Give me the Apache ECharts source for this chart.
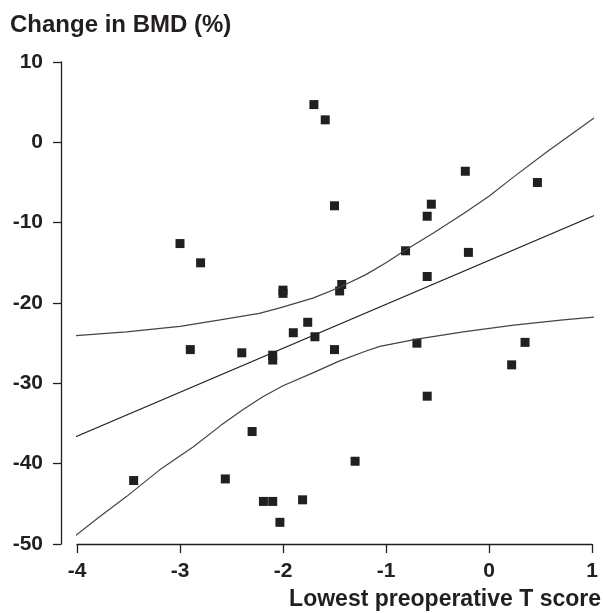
<!DOCTYPE html>
<html lang="en">
<head>
    <meta charset="UTF-8">
    <title>BMD change vs T score</title>
    <style>
        html, body { margin: 0; padding: 0; background: #fff; }
        #main { width: 603px; height: 613px; }
    </style>
</head>
<body>
    <div id="main"></div>
    <script src="https://cdn.jsdelivr.net/npm/echarts@6/dist/echarts.min.js"></script>
    <script>
        // values
        var tScore = [-1.70, -1.59, -1.50, -3.00, -2.80, -2.00, -2.00, -0.23, 0.47, -0.56,
                      -0.60, -0.81, -0.20, -1.43, -1.45, -0.60, -1.76, -1.90, -1.69, -2.90,
                      -2.40, -2.10, -2.10, -1.50, -2.30, -3.45, -2.56, -2.19, -2.10, -1.81,
                      -2.03, -0.70, 0.35, 0.22, -0.60, -1.30];
        var bmdChange = [4.7, 2.8, -7.9, -12.6, -15.0, -18.4, -18.8, -3.6, -5.0, -7.7,
                         -9.2, -13.5, -13.7, -17.7, -18.5, -16.7, -22.4, -23.7, -24.2, -25.8,
                         -26.2, -26.5, -27.1, -25.8, -36.0, -42.1, -41.9, -44.7, -44.7, -44.5,
                         -47.3, -25.0, -24.9, -27.7, -31.6, -39.7];

        // fitted line and its confidence band
        var fitX = [-4.04, 1.06];
        var fitY = [-36.8, -8.9];

        var upperX = [-4.04, -3.52, -3.0, -2.61, -2.23, -2.03, -1.71, -1.46, -1.2, -1.0, -0.81, -0.54, -0.25, 0.0, 0.24, 0.56, 0.8, 1.08];
        var upperY = [-24.1, -23.6, -22.9, -22.1, -21.3, -20.6, -19.4, -18.1, -16.5, -15.0, -13.4, -11.3, -8.9, -6.7, -4.3, -1.2, 1.0, 3.6];

        var lowerX = [-4.04, -3.8, -3.52, -3.2, -2.87, -2.6, -2.39, -2.2, -2.0, -1.71, -1.45, -1.2, -1.06, -0.70, -0.25, 0.24, 0.72, 1.06];
        var lowerY = [-49.2, -46.8, -44.1, -40.8, -37.9, -35.2, -33.3, -31.7, -30.3, -28.7, -27.2, -26.0, -25.4, -24.5, -23.6, -22.75, -22.1, -21.7];

        var yTicks = [-50, -40, -30, -20, -10, 0, 10];
        var xTicks = [-4, -3, -2, -1, 0, 1];

        function pairs(a, b) {
            return a.map(function (v, i) { return [v, b[i]]; });
        }

        var ink = '#231f20';
        var font = 'Liberation Sans, Arial, sans-serif';

        var myChart = echarts.init(document.getElementById('main'), null, { renderer: 'canvas' });

        var option = {
            animation: false,
            title: [{
                text: 'Change in BMD (%)',
                left: 10,
                top: 13,
                padding: 0,
                textStyle: { fontSize: 24, fontWeight: 'bold', color: ink, fontFamily: font }
            }, {
                text: 'Lowest preoperative T score',
                right: 2,
                top: 588,
                padding: 0,
                textStyle: { fontSize: 23, fontWeight: 'bold', color: ink, fontFamily: font }
            }],
            grid: { left: 77, right: 11, top: 62, bottom: 69 },
            xAxis: {
                type: 'value',
                min: xTicks[0],
                max: xTicks[xTicks.length - 1],
                interval: 1,
                axisLine: { onZero: false, lineStyle: { color: ink, width: 1.3 } },
                axisTick: { length: 9, lineStyle: { color: ink, width: 1.3 } },
                axisLabel: { margin: 17, fontSize: 21, fontWeight: 'bold', color: ink, fontFamily: font },
                splitLine: { show: false }
            },
            yAxis: {
                type: 'value',
                min: yTicks[0],
                max: yTicks[yTicks.length - 1],
                interval: 10,
                offset: 16,
                axisLine: { show: true, onZero: false, lineStyle: { color: ink, width: 1.3 } },
                axisTick: { show: true, length: 8, lineStyle: { color: ink, width: 1.3 } },
                axisLabel: { margin: 18, fontSize: 21, fontWeight: 'bold', color: ink, fontFamily: font },
                splitLine: { show: false }
            },
            series: [{
                type: 'line',
                data: pairs(upperX, upperY),
                smooth: false,
                symbol: 'none',
                clip: false,
                lineStyle: { color: '#444', width: 1.2 }
            }, {
                type: 'line',
                data: pairs(lowerX, lowerY),
                smooth: false,
                symbol: 'none',
                clip: false,
                lineStyle: { color: '#444', width: 1.2 }
            }, {
                type: 'line',
                data: pairs(fitX, fitY),
                symbol: 'none',
                clip: false,
                lineStyle: { color: ink, width: 1.2 }
            }, {
                type: 'scatter',
                data: pairs(tScore, bmdChange),
                symbol: 'rect',
                symbolSize: 9,
                itemStyle: { color: ink, opacity: 1 }
            }]
        };

        myChart.setOption(option);
    </script>
</body>
</html>
